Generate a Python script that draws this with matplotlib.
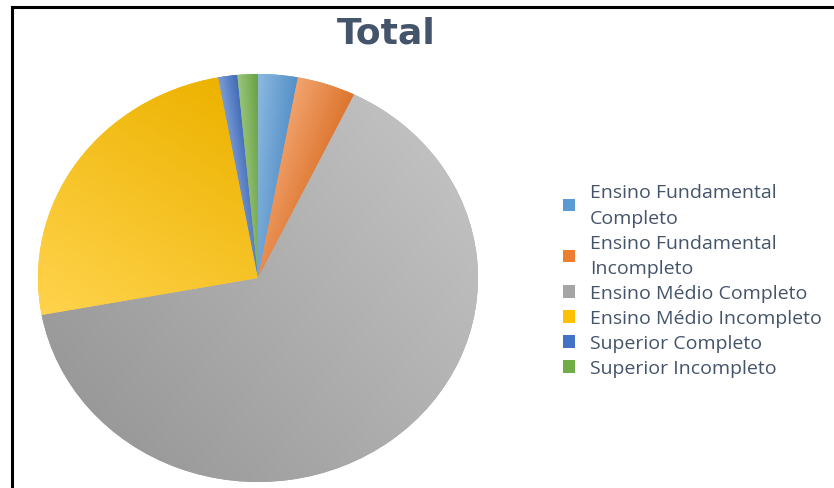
import matplotlib.pyplot as plt
import numpy as np
from matplotlib.lines import Line2D
from matplotlib.colors import to_rgb

# dados (percentuais)
categorias = ['Ensino Fundamental\nCompleto', 'Ensino Fundamental\nIncompleto',
              'Ensino Médio Completo', 'Ensino Médio Incompleto',
              'Superior Completo', 'Superior Incompleto']
valores = [2.9, 4.3, 64.9, 25.0, 1.4, 1.5]
cores = ['#5B9BD5', '#ED7D31', '#A5A5A5', '#FFC000', '#4472C4', '#70AD47']

fig = plt.figure(figsize=(8.34, 4.89), dpi=100)
fig.patch.set_facecolor('white')

# eixo do tamanho da elipse da pizza
ax = fig.add_axes([38 / 834, 6 / 489, 440 / 834, 408 / 489])
wedges, _ = ax.pie(valores, colors=cores, startangle=90, counterclock=False,
                   radius=1, wedgeprops=dict(linewidth=0))

# gradiente em cada fatia (estilo Excel): claro no inicio, cor base no fim
n = 300
xx, yy = np.meshgrid(np.linspace(-1, 1, n), np.linspace(1, -1, n))
for w in wedges:
    base = np.array(to_rgb(w.get_facecolor()))
    claro = base + 0.30 * (1 - base)
    escuro = base * 0.93
    phi = np.deg2rad((w.theta1 + w.theta2) / 2)
    d = np.array([np.sin(phi), -np.cos(phi)])  # tangente no sentido horario
    ang = np.deg2rad(np.linspace(w.theta1, w.theta2, 50))
    px = np.concatenate([[0], np.cos(ang)])
    py = np.concatenate([[0], np.sin(ang)])
    proj = px * d[0] + py * d[1]
    s = (xx * d[0] + yy * d[1] - proj.min()) / (proj.max() - proj.min())
    s = np.clip(s, 0, 1)[..., None]
    img = claro * (1 - s) + escuro * s
    im = ax.imshow(img, extent=(-1, 1, -1, 1), zorder=3, interpolation='bilinear')
    im.set_clip_path(w)

ax.set_aspect('auto')
ax.set_xlim(-1, 1)
ax.set_ylim(-1, 1)
ax.axis('off')

fig.text(386 / 834, 1 - 33 / 489, 'Total', ha='center', va='center',
         fontsize=26, fontweight='bold', color='#44546A', family='DejaVu Sans')

leg = fig.legend(wedges, categorias, loc='upper left',
                 bbox_to_anchor=(563 / 834, 1 - 184 / 489), frameon=False,
                 prop={'family': 'Open Sans', 'size': 14},
                 handlelength=0.6, handleheight=0.6, handletextpad=0.8,
                 labelspacing=0.36, borderpad=0, borderaxespad=0)
for txt in leg.get_texts():
    txt.set_color('#44546A')
    txt.set_linespacing(1.55)

# moldura (linhas de borda esquerda e superior)
fig.add_artist(Line2D([12 / 834, 12 / 834], [0, 1 - 8 / 489], color='black',
                      linewidth=2.2, transform=fig.transFigure))
fig.add_artist(Line2D([12 / 834, 1], [1 - 8 / 489, 1 - 8 / 489], color='black',
                      linewidth=2.2, transform=fig.transFigure))

plt.savefig('out.png', dpi=100)
